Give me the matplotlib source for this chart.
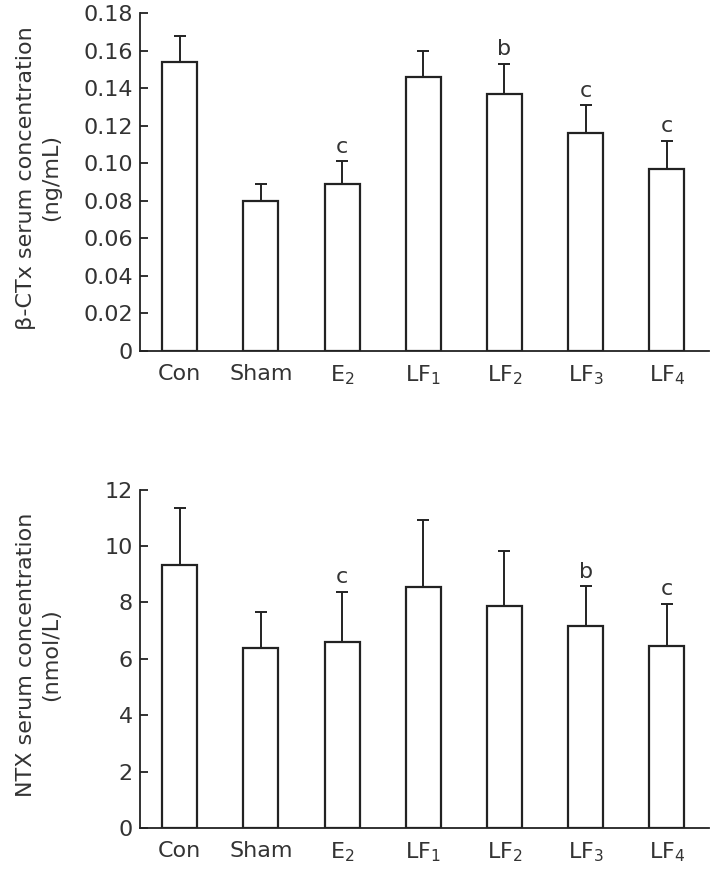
import matplotlib
matplotlib.use("Agg")
import matplotlib.pyplot as plt
import numpy as np

plt.rcParams['font.family'] = ['DejaVu Sans']
plt.rcParams['mathtext.default'] = 'regular'

groups = ['Con', 'Sham', 'E$_2$', 'LF$_1$', 'LF$_2$', 'LF$_3$', 'LF$_4$']

ctx_mean = [0.154, 0.080, 0.089, 0.146, 0.137, 0.116, 0.097]
ctx_err = [0.014, 0.009, 0.012, 0.014, 0.016, 0.015, 0.015]
ctx_sig = ['', '', 'c', '', 'b', 'c', 'c']
ctx_ticks = [0, 0.02, 0.04, 0.06, 0.08, 0.10, 0.12, 0.14, 0.16, 0.18]
ctx_ticklabels = ['0', '0.02', '0.04', '0.06', '0.08', '0.10', '0.12', '0.14', '0.16', '0.18']

ntx_mean = [9.32, 6.39, 6.61, 8.53, 7.88, 7.16, 6.46]
ntx_err = [2.01, 1.28, 1.77, 2.38, 1.94, 1.42, 1.50]
ntx_sig = ['', '', 'c', '', '', 'b', 'c']
ntx_ticks = [0, 2, 4, 6, 8, 10, 12]
ntx_ticklabels = ['0', '2', '4', '6', '8', '10', '12']

LINE = '#222222'
TXT = '#333333'
FS = 16

fig = plt.figure(figsize=(7.14, 8.71), dpi=100)
ax1 = fig.add_axes([0.196, 0.597, 0.797, 0.388])
ax2 = fig.add_axes([0.196, 0.049, 0.797, 0.389])


def panel(ax, means, errs, sig, ticks, ticklabels, ylabel, ymax):
    x = np.arange(len(groups))
    ax.bar(x, means, width=0.43, color='white', edgecolor=LINE, linewidth=1.6, zorder=2)
    ax.errorbar(x, means, yerr=[np.zeros(len(errs)), errs], fmt='none',
                ecolor=LINE, elinewidth=1.4, capsize=4, capthick=1.4, zorder=1)
    for xi, m, e, s in zip(x, means, errs, sig):
        if s:
            ax.annotate(s, (xi, m + e), xytext=(0, 6), textcoords='offset points',
                        ha='center', va='baseline', fontsize=FS, color=TXT)
    ax.set_xlim(-0.49, 6.52)
    ax.set_ylim(0, ymax)
    ax.set_yticks(ticks)
    ax.set_yticklabels(ticklabels)
    ax.set_xticks(x)
    ax.set_xticklabels(groups)
    ax.spines['top'].set_visible(False)
    ax.spines['right'].set_visible(False)
    ax.spines['left'].set_color(LINE)
    ax.spines['bottom'].set_color(LINE)
    ax.spines['left'].set_linewidth(1.3)
    ax.spines['bottom'].set_linewidth(1.3)
    ax.tick_params(axis='y', direction='in', length=6, width=1.3, color=LINE,
                   labelsize=FS, labelcolor=TXT, pad=5)
    ax.tick_params(axis='x', length=0, labelsize=FS, labelcolor=TXT, pad=9)
    ax.set_ylabel(ylabel, fontsize=FS, color=TXT, linespacing=1.35,
                  multialignment='center')
    ax.yaxis.set_label_coords(-0.138, 0.513)


panel(ax1, ctx_mean, ctx_err, ctx_sig, ctx_ticks, ctx_ticklabels,
      'β-CTx serum concentration\n(ng/mL)', 0.18)
panel(ax2, ntx_mean, ntx_err, ntx_sig, ntx_ticks, ntx_ticklabels,
      'NTX serum concentration\n(nmol/L)', 12)

fig.savefig('out.png', dpi=100, facecolor='white')
